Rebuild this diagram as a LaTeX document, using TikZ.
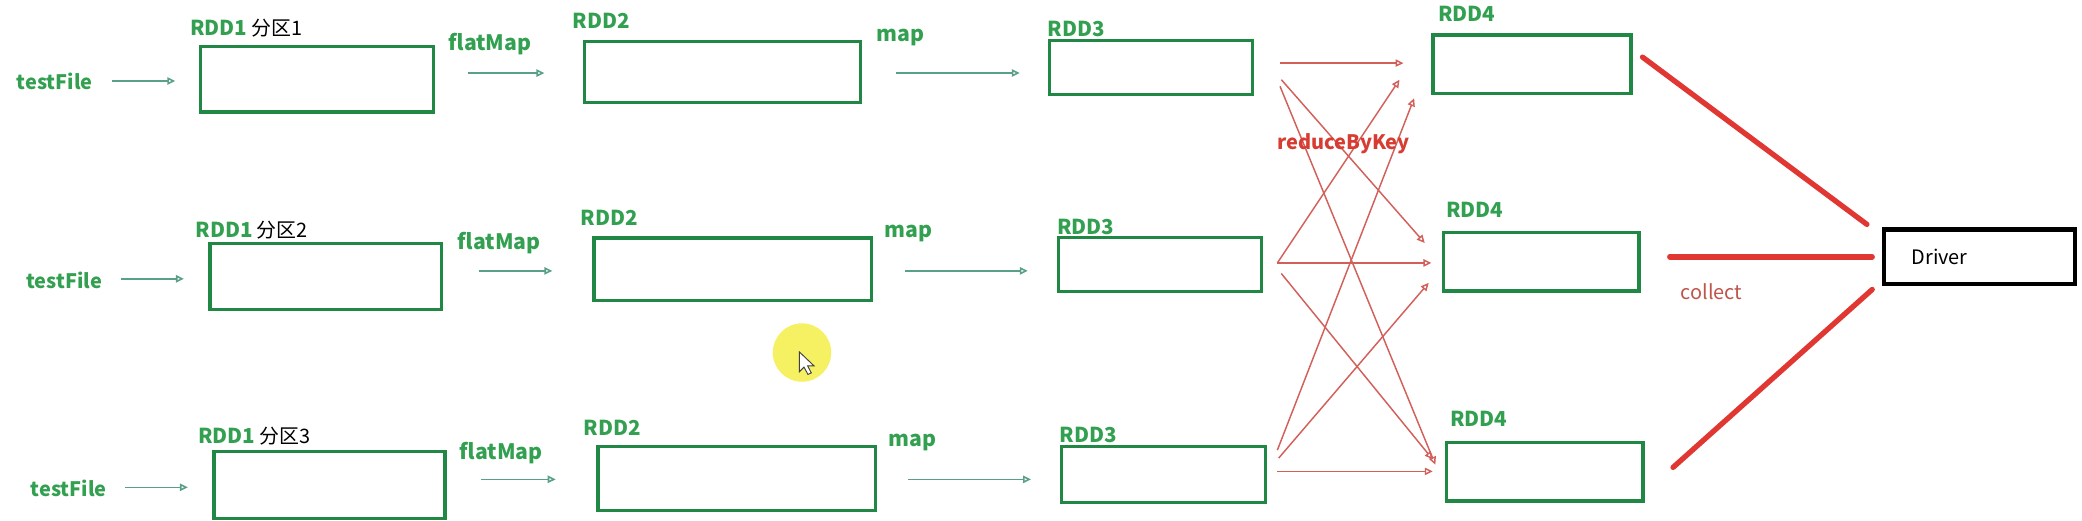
\documentclass[tikz,border=0pt]{standalone}
\usepackage{fontspec}
\setmainfont{Noto Sans CJK SC}
\usetikzlibrary{arrows.meta}
\definecolor{gbox}{RGB}{32,135,68}
\definecolor{glabel}{RGB}{50,160,80}
\definecolor{garrow}{RGB}{90,160,135}
\definecolor{rthin}{RGB}{210,95,90}
\definecolor{rthick}{RGB}{225,55,50}
\definecolor{rlabel}{RGB}{215,60,50}
\definecolor{clabel}{RGB}{190,85,75}
\definecolor{hilite}{RGB}{245,238,70}
\tikzset{
  rddbox/.style={draw=gbox, line width=2.5pt, anchor=north west, inner sep=0pt},
  glbl/.style={text=glabel, font=\fontsize{15.5}{18}\selectfont\bfseries, inner sep=0pt},
  tflbl/.style={text=glabel, font=\fontsize{15}{18}\selectfont\bfseries, inner sep=0pt},
  opl/.style={text=glabel, font=\fontsize{16}{18}\selectfont\bfseries, inner sep=0pt},
  garr/.style={draw=garrow, line width=1.2pt, -{Triangle[open,length=6pt,width=5.5pt]}},
  rarr/.style={draw=rthin, line width=1.1pt, -{Triangle[open,length=6pt,width=5.5pt]}},
  cline/.style={draw=rthick, line width=4pt, line cap=round},
  drvbox/.style={draw=black, line width=3.5pt, anchor=north west, minimum width=144pt, minimum height=41pt, text width=102pt, inner xsep=21pt, align=left, font=\fontsize{15}{17}\selectfont},
}
\newcommand{\rddlbl}[1]{\textcolor{glabel}{\bfseries RDD1}\hspace{3pt}{\color{black}\mdseries\fontsize{15}{17}\selectfont 分区#1}}
\begin{document}
\begin{tikzpicture}[x=1pt,y=-1pt]
\useasboundingbox (0,0) rectangle (1568,392);
% highlight
\fill[hilite, opacity=0.85] (604,265.5) circle (22);
\draw[fill=white, draw=black!75, line width=0.7pt] (602,265) -- (602,280) -- (605.5,276.5) -- (608.5,282) -- (611,280.8) -- (608.2,275.5) -- (613,275.5) -- cycle;

% ---------- Row 1 ----------
\node[tflbl, anchor=east] (tf1) at (70,61) {testFile};
\node[rddbox, minimum width=175pt, minimum height=49pt] (a1) at (150,34) {};
\node[glbl, anchor=base west] (la1) at (143,27) {\rddlbl{1}};
\node[opl] (fm1) at (369,33) {flatMap};
\node[rddbox, minimum width=208pt, minimum height=46pt] (b1) at (439,30) {};
\node[glbl, anchor=base west] (lb1) at (431,21.5) {RDD2};
\node[opl] (mp1) at (678,28) {map};
\node[rddbox, minimum width=153pt, minimum height=41pt] (c1) at (789,29) {};
\node[glbl, anchor=base west] (lc1) at (789,27.5) {RDD3};
\node[rddbox, minimum width=149pt, minimum height=44pt] (d1) at (1078,25) {};
\node[glbl, anchor=base west] (ld1) at (1083,16) {RDD4};
\draw[garr, shorten <=14pt, shorten >=18pt] (tf1.east) -- (tf1.east -| a1.west);
\draw[garr, shorten <=25pt, shorten >=29pt] (a1.east |- 0,55) -- (b1.west |- 0,55);
\draw[garr, shorten <=25pt, shorten >=21pt] (b1.east |- 0,55) -- (c1.west |- 0,55);

% ---------- Row 2 ----------
\node[tflbl, anchor=east] (tf2) at (77,211) {testFile};
\node[rddbox, minimum width=174pt, minimum height=50pt] (a2) at (157,182) {};
\node[glbl, anchor=base west] (la2) at (147,179) {\rddlbl{2}};
\node[opl] (fm2) at (376,183) {flatMap};
\node[rddbox, minimum width=209pt, minimum height=47pt] (b2) at (446,178) {};
\node[glbl, anchor=base west] (lb2) at (437,169.5) {RDD2};
\node[opl] (mp2) at (684,176) {map};
\node[rddbox, minimum width=153pt, minimum height=41pt] (c2) at (796,177.5) {};
\node[glbl, anchor=base west] (lc2) at (796,176.5) {RDD3};
\node[rddbox, minimum width=147pt, minimum height=44pt] (d2) at (1086,174) {};
\node[glbl, anchor=base west] (ld2) at (1089,164) {RDD4};
\draw[garr, shorten <=14pt, shorten >=18.5pt] (tf2.east |- 0,210) -- (a2.west |- 0,210);
\draw[garr, shorten <=27pt, shorten >=30pt] (a2.east |- 0,204) -- (b2.west |- 0,204);
\draw[garr, shorten <=24pt, shorten >=22pt] (b2.east |- 0,204) -- (c2.west |- 0,204);

% ---------- Row 3 ----------
\node[tflbl, anchor=east] (tf3) at (80.5,367.5) {testFile};
\node[rddbox, minimum width=174pt, minimum height=50pt] (a3) at (160,339) {};
\node[glbl, anchor=base west] (la3) at (149,334) {\rddlbl{3}};
\node[opl] (fm3) at (377.5,341) {flatMap};
\node[rddbox, minimum width=209pt, minimum height=48pt] (b3) at (449,335) {};
\node[glbl, anchor=base west] (lb3) at (439.5,328) {RDD2};
\node[opl] (mp3) at (687,333) {map};
\node[rddbox, minimum width=154pt, minimum height=42pt] (c3) at (798,335) {};
\node[glbl, anchor=base west] (lc3) at (798,333.5) {RDD3};
\node[rddbox, minimum width=148pt, minimum height=44pt] (d3) at (1088,332) {};
\node[glbl, anchor=base west] (ld3) at (1092,321.5) {RDD4};
\draw[garr, shorten <=13.5pt, shorten >=18.5pt] (tf3.east |- 0,367) -- (a3.west |- 0,367);
\draw[garr, shorten <=26pt, shorten >=30.5pt] (a3.east |- 0,361) -- (b3.west |- 0,361);
\draw[garr, shorten <=23.5pt, shorten >=21.5pt] (b3.east |- 0,361) -- (c3.west |- 0,361);

% ---------- reduceByKey shuffle ----------
\coordinate (s1) at (964,47.5);  \coordinate (e1) at (1057,47.5);
\coordinate (s2) at (965,60);    \coordinate (e2) at (1073,183);
\coordinate (s3) at (964,65);    \coordinate (e3) at (1081,350);
\coordinate (s4) at (962,198);   \coordinate (e4) at (1054,60);
\coordinate (s5) at (962,198);   \coordinate (e5) at (1078,198);
\coordinate (s6) at (965,206);   \coordinate (e6) at (1079,346);
\coordinate (s7) at (962,339);   \coordinate (e7) at (1065,74);
\coordinate (s8) at (963,345);   \coordinate (e8) at (1076,213);
\coordinate (s9) at (962,355);   \coordinate (e9) at (1079,355);
\foreach \i in {1,...,9} { \draw[rarr] (s\i) -- (e\i); }
\node[text=rlabel, font=\fontsize{15}{17}\selectfont\bfseries, inner sep=0pt] (rbk) at (1012,108) {reduceByKey};

% ---------- Driver ----------
\node[drvbox] (drv) at (1417,171) {Driver};
\coordinate (k1s) at (1237,43);  \coordinate (k1e) at (1406,169);
\coordinate (k3s) at (1260,352); \coordinate (k3e) at (1410,218);
\draw[cline] (k1s) -- (k1e);
\draw[cline, shorten <=22pt, shorten >=7pt] (d2.east |- 0,193.5) -- (drv.west |- 0,193.5);
\draw[cline] (k3s) -- (k3e);
\node[text=clabel, font=\fontsize{15}{17}\selectfont, inner sep=0pt] (col) at (1289,220) {collect};
\end{tikzpicture}
\end{document}
